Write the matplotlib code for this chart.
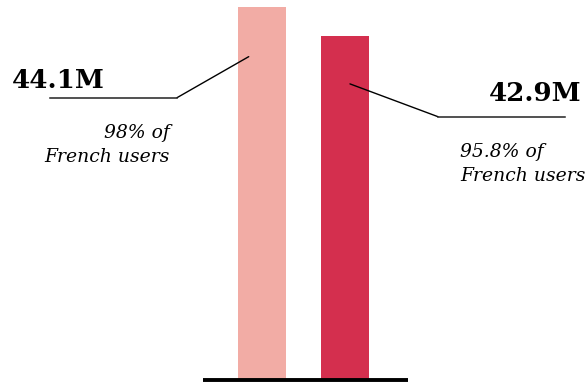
import matplotlib
matplotlib.use("Agg")
import matplotlib.pyplot as plt
from matplotlib.lines import Line2D

# Datos
categorias = ["Usuarios A", "Usuarios B"]
valores = [44.1, 42.9]
etiquetas = ["44.1M", "42.9M"]
notas = ["98% of\nFrench users", "95.8% of\nFrench users"]
colores = ["#F2ACA5", "#D42F4E"]

W, H = 586, 382
SERIF = ["DejaVu Serif"]


def px(x, y):
    """Pixeles (origen arriba-izquierda) -> fraccion de figura."""
    return x / W, 1 - y / H


fig = plt.figure(figsize=(W / 100, H / 100), dpi=100)
ax = fig.add_axes([0, 3.5 / H, 1, 378.5 / H])
x = list(range(len(categorias)))
ax.bar(x, valores, width=48 / 83, color=colores)
ax.set_xlim(-262 / 83, (W - 262) / 83)
ax.set_ylim(28.7, 44.4)
ax.axis("off")

# Linea base
fig.add_artist(Line2D([203 / W, 408 / W], [1 - 380.2 / H] * 2,
                      color="black", lw=2.8, solid_capstyle="butt"))

# Etiqueta izquierda
fig.text(*px(12, 88), etiquetas[0], fontsize=18.8, fontweight="bold",
         family=SERIF, ha="left", va="baseline")
fig.add_artist(Line2D([50 / W, 177 / W], [1 - 97.7 / H] * 2, color="#222222", lw=1.1))
ax.annotate("", xy=(x[0] - 0.16, valores[0] - 2.05), xytext=(177, H - 97.7),
            textcoords="figure pixels",
            arrowprops=dict(arrowstyle="-", lw=1, color="black", shrinkA=0, shrinkB=0))
fig.text(*px(170, 162), notas[0], fontsize=13.5, style="italic", family=SERIF,
         ha="right", va="baseline", linespacing=1.4)

# Etiqueta derecha
fig.text(*px(582, 101), etiquetas[1], fontsize=18.8, fontweight="bold",
         family=SERIF, ha="right", va="baseline")
fig.add_artist(Line2D([438 / W, 565 / W], [1 - 116.7 / H] * 2, color="#222222", lw=1.1))
ax.annotate("", xy=(x[1] + 0.06, valores[1] - 1.98), xytext=(438, H - 116.7),
            textcoords="figure pixels",
            arrowprops=dict(arrowstyle="-", lw=1, color="black", shrinkA=0, shrinkB=0))
fig.text(*px(460, 181), notas[1], fontsize=13.5, style="italic", family=SERIF,
         ha="left", va="baseline", linespacing=1.4)

fig.savefig("out.png", dpi=100)
